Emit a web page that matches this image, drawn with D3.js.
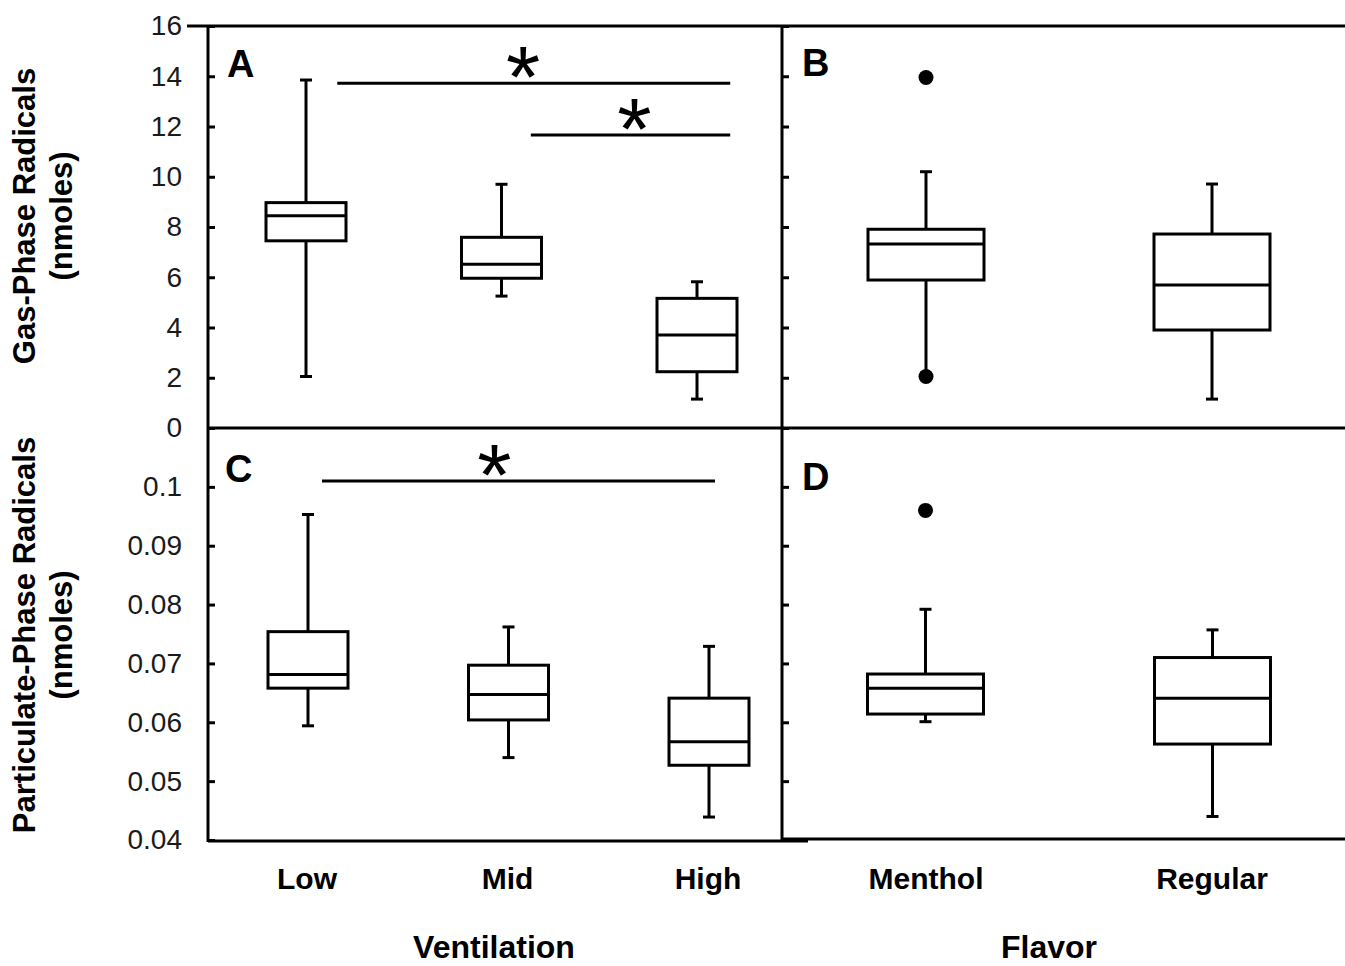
<!DOCTYPE html>
<html>
<head>
<meta charset="utf-8">
<script src="https://cdn.jsdelivr.net/npm/d3@7"></script>
<style>
  body { margin: 0; background: #fff; }
  svg { display: block; font-family: "Liberation Sans", Arial, sans-serif; }
</style>
</head>
<body>
<div id="chart"></div>
<script>
// categories
const ventCats = ["Low", "Mid", "High"];
const flavorCats = ["Menthol", "Regular"];

// box stats: [whisker low, q1, median, q3, whisker high]
const gasVent = [
  [2.05, 7.45, 8.45, 8.97, 13.85],
  [5.25, 5.96, 6.52, 7.59, 9.70],
  [1.15, 2.24, 3.70, 5.16, 5.82]
];
const gasFlavor = [
  [2.05, 5.89, 7.32, 7.91, 10.20],
  [1.15, 3.90, 5.69, 7.72, 9.71]
];
const gasFlavorOutliers = [[13.95, 2.05], []];

const partVent = [
  [0.0594, 0.0658, 0.0681, 0.0754, 0.0953],
  [0.0540, 0.0604, 0.0647, 0.0697, 0.0762],
  [0.0439, 0.0527, 0.0567, 0.0641, 0.0729]
];
const partFlavor = [
  [0.0601, 0.0614, 0.0658, 0.0682, 0.0792],
  [0.0440, 0.0563, 0.0641, 0.0710, 0.0757]
];
const partFlavorOutliers = [[0.0960], []];

// significance bars (from/to/star in category steps, y in data units)
const gasSig = [
  { from: 0.16, to: 2.17, y: 13.72, star: 1.11 },
  { from: 1.15, to: 2.17, y: 11.66, star: 1.68 }
];
const partSig = [
  { from: 0.07, to: 2.03, y: 0.101, star: 0.93 }
];

// tick labels
const gasTicks = [0, 2, 4, 6, 8, 10, 12, 14, 16];
const partTicks = [0.04, 0.05, 0.06, 0.07, 0.08, 0.09, 0.1];

const width = 1345, height = 966;
const xLeft = 208, xMid = 782, xRight = 1345;
const yTop = 26, yMidLine = 428, yBottom = 840;

const svg = d3.select("#chart").append("svg")
  .attr("width", width)
  .attr("height", height);

const yGas = d3.scaleLinear().domain([0, 16]).range([yMidLine, yTop]);
const yPart = d3.scaleLinear().domain([0.04, 0.11]).range([yBottom, yMidLine]);

const xA = d3.scalePoint().domain(ventCats).range([306, 697]);
const xC = d3.scalePoint().domain(ventCats).range([308, 709]);
const xB = d3.scalePoint().domain(flavorCats).range([926, 1212]);
const xD = d3.scalePoint().domain(flavorCats).range([925.5, 1212.5]);

const lw = 3;

// axes: ticks pointing inward
function leftAxis(y, ticks, fmt, x, labels) {
  const ax = d3.axisLeft(y).tickValues(ticks).tickSizeInner(-7).tickSizeOuter(0)
    .tickPadding(26).tickFormat(labels ? fmt : "");
  const g = svg.append("g").attr("transform", `translate(${x},0)`).call(ax);
  g.select(".domain").remove();
  g.selectAll(".tick line").attr("stroke", "#000").attr("stroke-width", lw);
  g.selectAll(".tick text").attr("fill", "#1a1a1a").style("font-size", "28px")
    .style("font-family", "Liberation Sans, Arial, sans-serif");
}
leftAxis(yGas, gasTicks, d3.format("d"), xLeft, true);
leftAxis(yPart, partTicks, d => String(+d.toFixed(2)), xLeft, true);
leftAxis(yGas, gasTicks, null, xMid, false);
leftAxis(yPart, partTicks, null, xMid, false);

// frame lines
const frame = svg.append("g").attr("stroke", "#000").attr("stroke-width", lw).attr("fill", "none");
frame.append("line").attr("x1", 187).attr("x2", xRight).attr("y1", yTop).attr("y2", yTop);
frame.append("line").attr("x1", xLeft).attr("x2", xRight).attr("y1", yMidLine).attr("y2", yMidLine);
frame.append("line").attr("x1", xLeft).attr("x2", 808).attr("y1", yBottom + 1).attr("y2", yBottom + 1);
frame.append("line").attr("x1", xMid).attr("x2", xRight).attr("y1", yBottom - 1).attr("y2", yBottom - 1);
frame.append("line").attr("x1", xLeft).attr("x2", xLeft).attr("y1", yTop - 1).attr("y2", yBottom + 2);
frame.append("line").attr("x1", xMid).attr("x2", xMid).attr("y1", yTop - 1).attr("y2", yBottom + 2);

function drawBoxes(x, y, cats, stats, boxW, outliers) {
  const g = svg.append("g").attr("stroke", "#000").attr("stroke-width", lw).attr("fill", "none");
  const capW = 12;
  cats.forEach((c, i) => {
    const [lo, q1, med, q3, hi] = stats[i];
    const cx = x(c);
    const b = g.append("g");
    b.append("line").attr("x1", cx).attr("x2", cx).attr("y1", y(hi)).attr("y2", y(q3));
    b.append("line").attr("x1", cx).attr("x2", cx).attr("y1", y(q1)).attr("y2", y(lo));
    b.append("line").attr("x1", cx - capW / 2).attr("x2", cx + capW / 2).attr("y1", y(hi)).attr("y2", y(hi));
    b.append("line").attr("x1", cx - capW / 2).attr("x2", cx + capW / 2).attr("y1", y(lo)).attr("y2", y(lo));
    b.append("rect").attr("x", cx - boxW / 2).attr("width", boxW)
      .attr("y", y(q3)).attr("height", y(q1) - y(q3)).attr("fill", "#fff");
    b.append("line").attr("x1", cx - boxW / 2).attr("x2", cx + boxW / 2).attr("y1", y(med)).attr("y2", y(med));
    if (outliers) {
      svg.selectAll(null).data(outliers[i]).enter().append("circle")
        .attr("cx", cx).attr("cy", d => y(d)).attr("r", 7.5).attr("fill", "#000");
    }
  });
}
drawBoxes(xA, yGas, ventCats, gasVent, 80);
drawBoxes(xC, yPart, ventCats, partVent, 80);
drawBoxes(xB, yGas, flavorCats, gasFlavor, 116, gasFlavorOutliers);
drawBoxes(xD, yPart, flavorCats, partFlavor, 116, partFlavorOutliers);

function drawSig(x, y, cats, sig) {
  const pos = t => x(cats[0]) + t * x.step();
  sig.forEach(s => {
    svg.append("line").attr("x1", pos(s.from)).attr("x2", pos(s.to))
      .attr("y1", y(s.y)).attr("y2", y(s.y)).attr("stroke", "#000").attr("stroke-width", lw);
    svg.append("text").attr("x", pos(s.star)).attr("y", y(s.y) + 24)
      .attr("text-anchor", "middle").style("font-size", "88px").text("*");
  });
}
drawSig(xA, yGas, ventCats, gasSig);
drawSig(xC, yPart, ventCats, partSig);

// panel letters
const letters = [
  { t: "A", x: 227, y: 77 },
  { t: "B", x: 802, y: 76 },
  { t: "C", x: 225, y: 482 },
  { t: "D", x: 802, y: 490 }
];
svg.selectAll(".letter").data(letters).enter().append("text")
  .attr("x", d => d.x).attr("y", d => d.y)
  .style("font-size", "38px").style("font-weight", "bold").text(d => d.t);

// category labels
const catLab = svg.append("g").style("font-size", "30px").style("font-weight", "bold")
  .attr("text-anchor", "middle");
ventCats.forEach(c => catLab.append("text").attr("x", xC(c) - 1).attr("y", 889).text(c));
flavorCats.forEach(c => catLab.append("text").attr("x", xB(c)).attr("y", 889).text(c));

// axis titles
svg.append("text").attr("x", 494).attr("y", 958).attr("text-anchor", "middle")
  .style("font-size", "32px").style("font-weight", "bold").text("Ventilation");
svg.append("text").attr("x", 1049).attr("y", 958).attr("text-anchor", "middle")
  .style("font-size", "32px").style("font-weight", "bold").text("Flavor");

function yTitle(lines, cy) {
  const g = svg.append("g").style("font-size", "31px").style("font-weight", "bold")
    .attr("text-anchor", "middle");
  lines.forEach((l, i) => {
    g.append("text").attr("transform", `translate(${35 + i * 37},${cy}) rotate(-90)`).text(l);
  });
}
yTitle(["Gas-Phase Radicals", "(nmoles)"], 216);
yTitle(["Particulate-Phase Radicals", "(nmoles)"], 635);
</script>
</body>
</html>
